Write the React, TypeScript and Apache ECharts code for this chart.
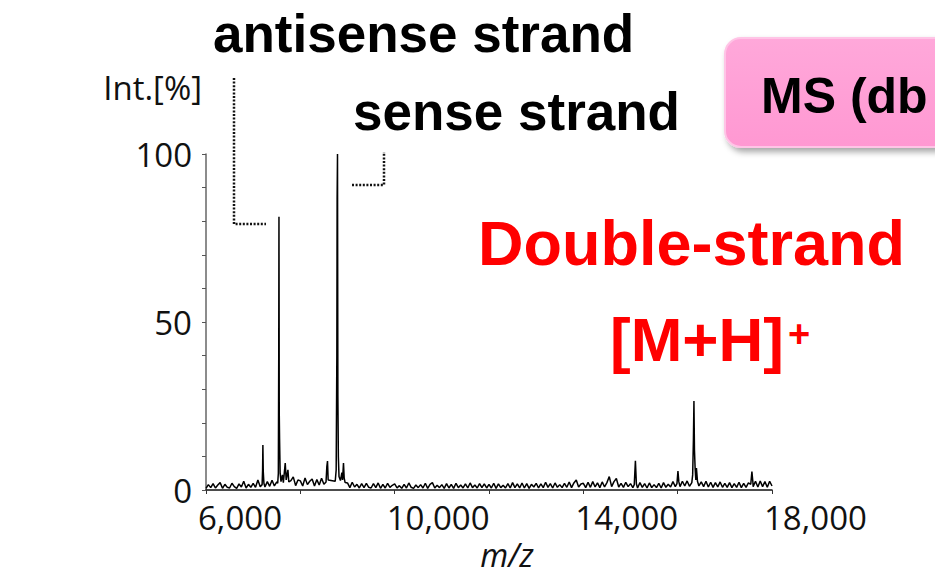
import React, { useEffect, useRef } from "react";
import * as echarts from "echarts";

// m/z axis
const mzMin = 6000;
const mzMax = 18000;
const mzInterval = 2000;
const mzLabelTicks = [6000, 10000, 14000, 18000];

// intensity axis
const intMin = 0;
const intMax = 100;
const intInterval = 10;
const intLabelTicks = [0, 50, 100];

const noiseStart = 6000;
const noiseStep = 50;
const noise6000 = [0.5, 1.6, 0.7, 1.9, 0.6, 1.5, 2.2, 0.5, 1.7, 0.8, 0.6, 2.0, 1.0, 0.5, 1.8, 0.9, 2.6, 0.6, 1.7, 0.8];
const noise7000 = [2.0, 0.8, 3.0, 1.0, 2.2, 0.9, 2.5, 1.1, 2.9, 1.2, 2.4, 1.3, 3.5, 1.4, 3.2, 1.2, 2.8, 3.9, 1.3, 3.0];
const noise8000 = [2.7, 1.2, 3.6, 1.6, 2.6, 3.3, 1.2, 3.1, 1.5, 3.5, 1.7, 4.0, 2.0, 2.6, 1.1, 2.9, 1.3, 2.1, 1.2, 1.9];
const noise9000 = [2.1, 0.7, 2.3, 0.9, 1.7, 0.6, 1.9, 0.7, 2.0, 0.8, 0.6, 1.9, 0.7, 2.1, 0.5, 1.7, 0.6, 2.0, 0.8, 1.4];
const noise10000 = [1.8, 0.6, 1.3, 0.5, 1.7, 0.6, 2.1, 0.8, 0.5, 1.5, 0.7, 1.6, 0.6, 2.0, 0.5, 1.7, 2.2, 0.6, 1.4, 0.7];
const noise11000 = [1.6, 0.5, 1.9, 0.6, 1.7, 0.5, 2.0, 0.7, 1.5, 0.6, 1.8, 0.6, 2.1, 0.7, 1.5, 0.6, 1.9, 0.7, 1.8, 0.6];
const noise12000 = [1.7, 0.6, 2.0, 0.5, 1.8, 0.7, 1.4, 0.6, 1.9, 0.6, 2.2, 0.7, 1.8, 0.6, 2.1, 0.6, 1.9, 0.5, 1.7, 0.9];
const noise13000 = [2.0, 0.6, 1.8, 0.7, 2.3, 0.8, 1.9, 0.6, 2.1, 0.8, 1.6, 0.7, 2.0, 0.8, 2.4, 0.7, 2.1, 3.0, 0.9, 1.8];
const noise14000 = [2.0, 0.7, 2.3, 0.8, 2.5, 0.9, 2.1, 0.7, 2.4, 0.9, 2.2, 4.0, 1.0, 2.5, 3.4, 0.9, 2.0, 0.8, 2.3, 1.0];
const noise15000 = [1.9, 0.7, 2.0, 0.6, 2.2, 0.8, 1.9, 0.6, 2.1, 0.7, 1.6, 0.7, 2.0, 0.6, 2.2, 0.8, 1.7, 0.9, 2.5, 1.0];
const noise16000 = [2.3, 1.0, 2.6, 1.2, 2.7, 1.1, 2.9, 1.3, 3.3, 1.2, 2.4, 1.0, 2.6, 0.9, 2.3, 0.8, 2.2, 0.9, 2.4, 0.8];
const noise17000 = [2.0, 0.8, 2.2, 0.7, 1.9, 0.8, 2.3, 0.7, 2.0, 0.8, 2.1, 3.0, 1.0, 2.6, 0.9, 2.7, 1.0, 2.5, 0.8, 2.6];
const noise18000 = [1.2];

// peaks [m/z, intensity %]
const peakSmall7208 = [[7190, 1.6], [7200, 6.0], [7206, 13.4], [7214, 5.5], [7228, 2.0]];
const peakAntisense = [[7520, 2.0], [7534, 5.0], [7542, 40.0], [7547, 81.3], [7553, 23.0], [7560, 15.0], [7572, 5.0], [7590, 2.5], [7620, 4.5], [7640, 2.2], [7680, 8.0], [7700, 3.0], [7737, 6.0], [7755, 2.4]];
const peakSense = [[8545, 2.4], [8562, 7.0], [8576, 8.6], [8590, 3.0], [8740, 2.6], [8760, 6.0], [8774, 40.0], [8780, 86.6], [8788, 100.0], [8796, 27.8], [8806, 10.0], [8820, 4.0], [8850, 2.8], [8866, 4.0], [8881, 5.2], [8895, 3.0], [8915, 8.0], [8930, 3.5], [8950, 2.2]];
const peak15104 = [[15080, 1.6], [15104, 8.7], [15125, 1.8]];
const peak16006 = [[15985, 1.9], [16006, 5.6], [16025, 2.4]];
const peakDouble = [[16300, 2.2], [16318, 4.5], [16334, 15.0], [16345, 26.5], [16356, 12.0], [16370, 6.5], [16385, 3.0], [16398, 6.5], [16420, 2.6]];
const peak17574 = [[17550, 1.7], [17574, 5.5], [17595, 2.3]];

function buildSpectrum(): number[][] {
  const noise = [
    ...noise6000, ...noise7000, ...noise8000, ...noise9000, ...noise10000, ...noise11000,
    ...noise12000, ...noise13000, ...noise14000, ...noise15000, ...noise16000, ...noise17000, ...noise18000,
  ];
  const peaks = [peakSmall7208, peakAntisense, peakSense, peak15104, peak16006, peakDouble, peak17574];
  const pts: number[][] = [];
  noise.forEach((v, i) => {
    const mz = noiseStart + i * noiseStep;
    const inPeak = peaks.some((p) => mz >= p[0][0] && mz <= p[p.length - 1][0]);
    if (!inPeak) pts.push([mz, v]);
  });
  peaks.forEach((p) => p.forEach((q) => pts.push([q[0], q[1]])));
  pts.sort((a, b) => a[0] - b[0]);
  return pts;
}

const LABEL_FONT = "'Open Sans', 'Noto Sans', sans-serif";
const TITLE_FONT = "'Liberation Sans', Arial, sans-serif";

export default function App() {
  const ref = useRef<HTMLDivElement>(null);
  useEffect(() => {
    if (!ref.current) return;
    const chart = echarts.init(ref.current, null, { renderer: "svg" });
    const redShadow = { shadowColor: "rgba(0,0,0,0.4)", shadowBlur: 4, shadowOffsetX: 3, shadowOffsetY: 4 };
    chart.setOption({
      animation: false,
      backgroundColor: "#ffffff",
      grid: { left: 206, top: 154, width: 566, height: 336, containLabel: false, outerBoundsMode: "none" },
      xAxis: {
        type: "value",
        min: mzMin,
        max: mzMax,
        interval: mzInterval,
        name: "m/z",
        nameLocation: "middle",
        nameGap: 37,
        nameTextStyle: { fontFamily: LABEL_FONT, fontSize: 32, lineHeight: 30, fontStyle: "italic", color: "#111", padding: [0, 0, 0, 36] },
        axisLine: { lineStyle: { color: "#111", width: 1.5 } },
        axisTick: { show: true, length: 4, lineStyle: { color: "#333", width: 1 } },
        splitLine: { show: false },
        axisLabel: {
          fontFamily: LABEL_FONT,
          fontSize: 33,
          color: "#111",
          margin: 11,
          align: "left",
          padding: [0, 0, 0, -8],
          formatter: (v: number) => (mzLabelTicks.includes(v) ? v.toLocaleString("en-US") : ""),
        },
      },
      yAxis: {
        type: "value",
        min: intMin,
        max: intMax,
        interval: intInterval,
        name: "Int.[%]",
        nameLocation: "end",
        nameGap: 67,
        nameTextStyle: { fontFamily: LABEL_FONT, fontSize: 33, color: "#111", align: "right", verticalAlign: "middle", padding: [0, 4, 0, 0] },
        axisLine: { show: true, lineStyle: { color: "#666", width: 1.5 } },
        axisTick: { show: true, length: 4, lineStyle: { color: "#555", width: 1 } },
        splitLine: { show: false },
        axisLabel: {
          fontFamily: LABEL_FONT,
          fontSize: 33,
          color: "#111",
          margin: 14,
          formatter: (v: number) => (intLabelTicks.includes(v) ? String(v) : ""),
        },
      },
      series: [
        {
          type: "line",
          data: buildSpectrum(),
          showSymbol: false,
          symbol: "none",
          lineStyle: { color: "#000", width: 1.5 },
          z: 3,
        },
      ],
      graphic: [
        {
          type: "rect",
          shape: { x: 725, y: 38, width: 270, height: 109, r: 16 },
          style: {
            fill: new echarts.graphic.LinearGradient(0, 0, 0, 1, [
              { offset: 0, color: "#ffa8da" },
              { offset: 1, color: "#ff98d2" },
            ]),
            stroke: "#ffc4e6",
            lineWidth: 2,
            shadowColor: "rgba(0,0,0,0.35)",
            shadowBlur: 6,
            shadowOffsetX: 3,
            shadowOffsetY: 4,
          },
        },
        {
          type: "text",
          style: { x: 761, y: 96, text: "MS (db", font: `bold 50px ${TITLE_FONT}`, fill: "#000", verticalAlign: "middle" },
        },
        {
          type: "text",
          style: { x: 213, y: 33, text: "antisense strand", font: `bold 53px ${TITLE_FONT}`, fill: "#000", verticalAlign: "middle" },
        },
        {
          type: "text",
          style: { x: 353, y: 111, text: "sense strand", font: `bold 53px ${TITLE_FONT}`, fill: "#000", verticalAlign: "middle" },
        },
        {
          type: "text",
          style: { x: 478, y: 243, text: "Double-strand", font: `bold 63px ${TITLE_FONT}`, fill: "#ff0000", verticalAlign: "middle", ...redShadow },
        },
        {
          type: "text",
          style: { x: 610, y: 339, text: "[M+H]", font: `bold 62px ${TITLE_FONT}`, fill: "#ff0000", verticalAlign: "middle", ...redShadow },
        },
        {
          type: "text",
          style: { x: 788, y: 334, text: "+", font: `bold 38px ${TITLE_FONT}`, fill: "#ff0000", verticalAlign: "middle", ...redShadow },
        },
        {
          type: "polyline",
          shape: { points: [[234, 78], [234, 224], [266, 224]] },
          style: { stroke: "#111", lineWidth: 2.5, lineDash: [2, 1.6], fill: null },
        },
        {
          type: "polyline",
          shape: { points: [[352, 185], [384, 185], [384, 152]] },
          style: { stroke: "#111", lineWidth: 2.5, lineDash: [2, 1.6], fill: null },
        },
      ],
    });
    return () => chart.dispose();
  }, []);
  return <div ref={ref} style={{ position: "fixed", left: 0, top: 0, width: 935, height: 569 }} />;
}
